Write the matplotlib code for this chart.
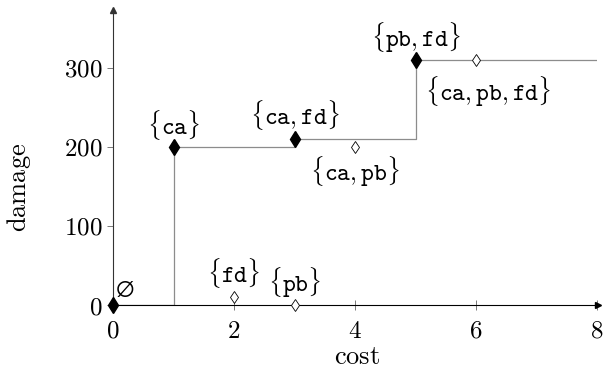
import matplotlib.pyplot as plt

plt.rcParams["font.family"] = "serif"
plt.rcParams["font.serif"] = ["DejaVu Serif"]
plt.rcParams["mathtext.fontset"] = "cm"

# step frontier
step_x = [0, 1, 1, 3, 3, 5, 5, 8]
step_y = [0, 0, 200, 200, 210, 210, 310, 310]

# pareto-optimal sets (filled) and dominated sets (open)
opt_x = [0, 1, 3, 5]
opt_y = [0, 200, 210, 310]
dom_x = [2, 3, 4, 6]
dom_y = [10, 0, 200, 310]

labels = [
    (0, 0, r"$\varnothing$", (8.6, 12)),
    (1, 200, r"$\{\mathtt{ca}\}$", (0, 16)),
    (3, 210, r"$\{\mathtt{ca},\mathtt{fd}\}$", (0, 17.5)),
    (4, 200, r"$\{\mathtt{ca},\mathtt{pb}\}$", (0, -18)),
    (5, 310, r"$\{\mathtt{pb},\mathtt{fd}\}$", (0, 15.5)),
    (6, 310, r"$\{\mathtt{ca},\mathtt{pb},\mathtt{fd}\}$", (8.6, -23)),
    (2, 10, r"$\{\mathtt{fd}\}$", (0, 17)),
    (3, 0, r"$\{\mathtt{pb}\}$", (0, 16)),
]

fig = plt.figure(figsize=(6.06, 3.72), dpi=100)
ax = fig.add_axes([0.1865, 0.1801, 0.7987, 0.793])

ax.plot(step_x, step_y, color="#8c8c8c", linewidth=0.9)
ax.plot(opt_x, opt_y, linestyle="none", marker="d", markersize=8,
        color="black", clip_on=False, zorder=3)
ax.plot(dom_x, dom_y, linestyle="none", marker="d", markersize=6.5,
        markerfacecolor="white", markeredgecolor="black", markeredgewidth=0.6,
        clip_on=False, zorder=3)

for x, y, txt, off in labels:
    ax.annotate(txt, (x, y), xytext=off, textcoords="offset points",
                ha="center", va="center", fontsize=17.5)

ax.set_xlim(0, 8)
ax.set_ylim(0, 373)
ax.set_xticks([0, 2, 4, 6, 8])
ax.set_yticks([0, 100, 200, 300])
ax.set_xticklabels([f"${v}$" for v in [0, 2, 4, 6, 8]])
ax.set_yticklabels([f"${v}$" for v in [0, 100, 200, 300]])
ax.tick_params(axis="x", direction="inout", length=7, width=0.5, labelsize=18,
               pad=7, color="#444444")
ax.tick_params(axis="y", direction="out", length=4.5, width=0.5, labelsize=18,
               pad=3, color="#444444")
ax.spines["top"].set_visible(False)
ax.spines["right"].set_visible(False)
ax.spines["left"].set_linewidth(0.8)
ax.spines["left"].set_color("#333333")
ax.spines["bottom"].set_linewidth(0.8)
ax.plot(1.003, 0, ">k", markersize=4, transform=ax.get_yaxis_transform(), clip_on=False)
ax.plot(0, 1.0, "^", color="#333333", markersize=4,
        transform=ax.get_xaxis_transform(), clip_on=False)

fig.text(357 / 606, 1 - 357 / 372, r"$\mathrm{cost}$", ha="center", va="center",
         fontsize=19)
fig.text(19 / 606, 1 - 187 / 372, r"$\mathrm{damage}$", ha="center", va="center",
         fontsize=19, rotation=90)

fig.savefig("out.png", dpi=100)
